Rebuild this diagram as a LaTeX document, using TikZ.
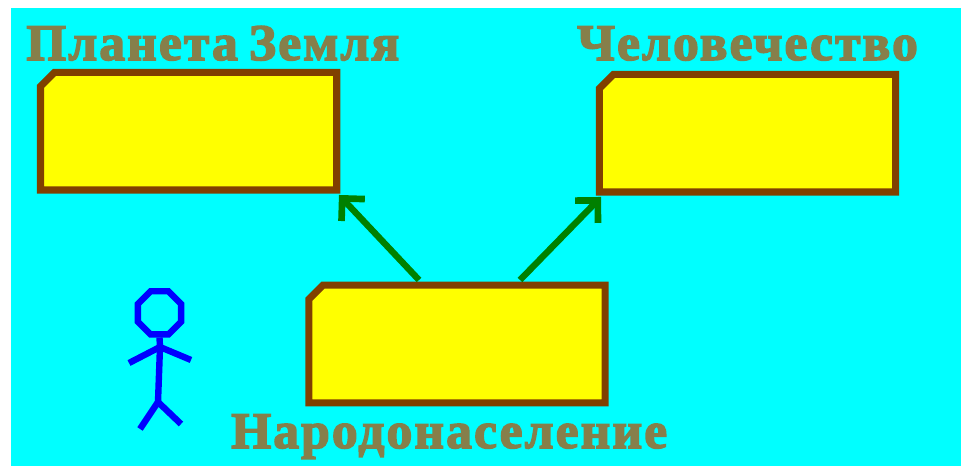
\documentclass[tikz,border=0pt]{standalone}
\usepackage{fontspec}
\setmainfont{Liberation Serif}
\newfontfamily\lblfont[LetterSpace=4.3,FakeBold=3,WordSpace=0.75]{Liberation Serif Bold}
\usetikzlibrary{arrows.meta,shapes.misc,shapes.geometric}
\definecolor{bgcyan}{RGB}{0,255,255}
\definecolor{boxedge}{RGB}{128,64,0}
\definecolor{boxfill}{RGB}{255,255,0}
\definecolor{lbl}{RGB}{134,127,74}
\definecolor{arrowgreen}{RGB}{0,128,0}
\definecolor{figblue}{RGB}{0,0,255}
\newcommand{\boxbody}{\phantom{\rule{211.7pt}{77.7pt}}}
\pgfdeclarearrow{
  name=RightBarb,
  setup code={
    \pgfarrowssettipend{0pt}
    \pgfarrowssetlineend{-6pt}
    \pgfarrowssetvisualbackend{-14pt}
  },
  drawing code={
    \pgfsetbuttcap
    \pgfsetmiterjoin
    \pgfsetlinewidth{5pt}
    \pgfpathmoveto{\pgfqpoint{-15.5pt}{12.0pt}}
    \pgfpathlineto{\pgfqpoint{-3.5pt}{0pt}}
    \pgfpathlineto{\pgfqpoint{-15.5pt}{-12.0pt}}
    \pgfusepathqstroke
  }
}
\tikzset{
  sheet/.style={fill=bgcyan,draw=none},
  entity/.style={chamfered rectangle,chamfered rectangle corners=north west,
    chamfered rectangle xsep=5.25pt,chamfered rectangle ysep=5.25pt,
    draw=boxedge,fill=boxfill,line width=5.3pt,inner sep=0pt},
  caption/.style={font=\lblfont\fontsize{38.5pt}{38.5pt}\selectfont,text=lbl,inner sep=0pt,anchor=base west},
  link/.style={draw=arrowgreen,line width=4.8pt,-{RightBarb}},
  stick/.style={draw=figblue,line width=4.8pt,line cap=butt,line join=round}
}
\begin{document}
\begin{tikzpicture}[x=0.75pt,y=-0.75pt]
\useasboundingbox (0,0) rectangle (961,466);
\fill[white] (0,0) rectangle (961,466);
\path[sheet] (11,8) rectangle (961,466);
\node[entity] (earth) at (188.6,131.2) {\boxbody};
\node[entity] (human) at (747.5,133.2) {\boxbody};
\node[entity] (people) at (457,344) {\boxbody};
\node[caption] (earthlbl) at (26,60) {Планета Земля};
\node[caption] (humanlbl) at (577,60) {Человечество};
\node[caption] (peoplelbl) at (231,448) {Народонаселение};
\coordinate (pa) at (419,280);
\coordinate (pb) at (520,280);
\coordinate (ta) at (339,195);
\coordinate (tb) at (601,197);
\draw[link] (pa) -- (ta);
\draw[link] (pb) -- (tb);
\node[regular polygon,regular polygon sides=8,draw=figblue,line width=4.8pt,inner sep=0pt,minimum size=35pt] (head) at (159.5,312.8) {};
\coordinate (neck) at (160,347);
\coordinate (hip) at (158,402);
\draw[stick] (head.south) -- (neck) -- (hip);
\draw[stick] (129,363) -- (neck) -- (191,360);
\draw[stick] (140,429) -- (hip) -- (181,424);
\end{tikzpicture}
\end{document}
